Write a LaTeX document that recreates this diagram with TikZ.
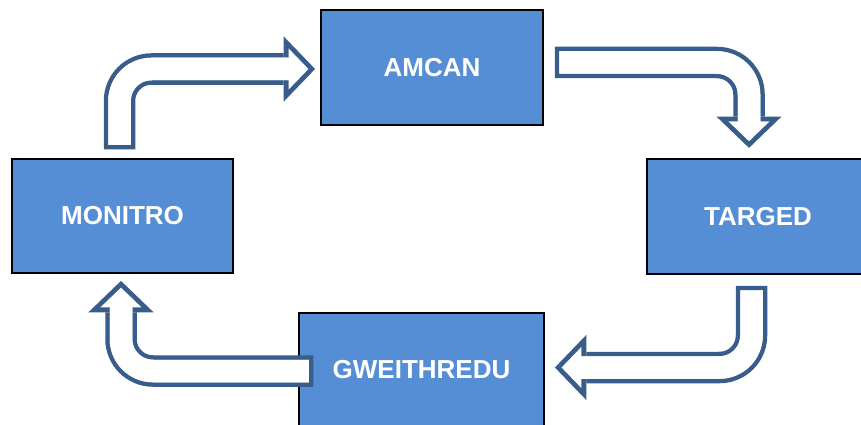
\documentclass[tikz,border=0pt]{standalone}
\usepackage{fontspec}
\setmainfont{Liberation Sans}
\definecolor{boxblue}{RGB}{85, 142, 213}
\definecolor{arrowblue}{RGB}{56, 93, 138}
\usetikzlibrary{arrows.meta, calc}

% hollow bent arrow: dark stroke, then white stroke inside it
\newcommand{\hollowarrow}[1]{%
  \draw[arrowout] #1;
  \draw[arrowin] #1;
  \draw[arrowgap] #1;
}

\begin{document}
\begin{tikzpicture}[x=1pt, y=1pt,
  stage/.style={draw=black, line width=2pt, fill=boxblue, text=white,
    font=\fontsize{26}{30}\selectfont\bfseries,
    minimum width=222pt, minimum height=115pt, inner sep=0pt},
  arrowout/.style={draw=arrowblue, line width=31.5pt, rounded corners=32pt,
    -{Triangle[length=31.4pt, width=65.2pt, line width=0pt]}},
  arrowin/.style={draw=white, line width=22.5pt, rounded corners=32pt,
    shorten <=4.5pt, shorten >=6.7pt,
    -{Triangle[length=19.8pt, width=41.1pt, line width=0pt]}},
  arrowgap/.style={draw=white, line width=22.5pt, rounded corners=32pt,
    shorten <=4.5pt, shorten >=22pt}]
  \useasboundingbox (0,0) rectangle (861,424);
  \clip (0,0) rectangle (861,424);

  % Boxes
  \node[stage] (amcan) at (432, 356.5) {AMCAN};
  \node[stage, minimum width=221pt, minimum height=114pt] (monitro) at (122.5, 208) {MONITRO};
  \node[stage] (targed) at (758, 207.5) {TARGED};
  \node[stage, minimum width=245pt, minimum height=114pt] (gweithredu) at (421.5, 54) {GWEITHREDU};

  % Arrows round the cycle
  \hollowarrow{($(monitro.north)+(-3,8.75)$) |- ($(amcan.west)+(-4.9,-1.5)$)}
  \hollowarrow{($(amcan.east)+(10.75,5)$) -| ($(targed.north)+(-9,10.1)$)}
  \hollowarrow{($(targed.south)+(-6.5,-10.75)$) |- ($(gweithredu.east)+(9.9,2.5)$)}
  \hollowarrow{($(gweithredu.west)+(15.25,-1)$) -| ($(monitro.south)+(-1.5,-6.9)$)}
\end{tikzpicture}
\end{document}
